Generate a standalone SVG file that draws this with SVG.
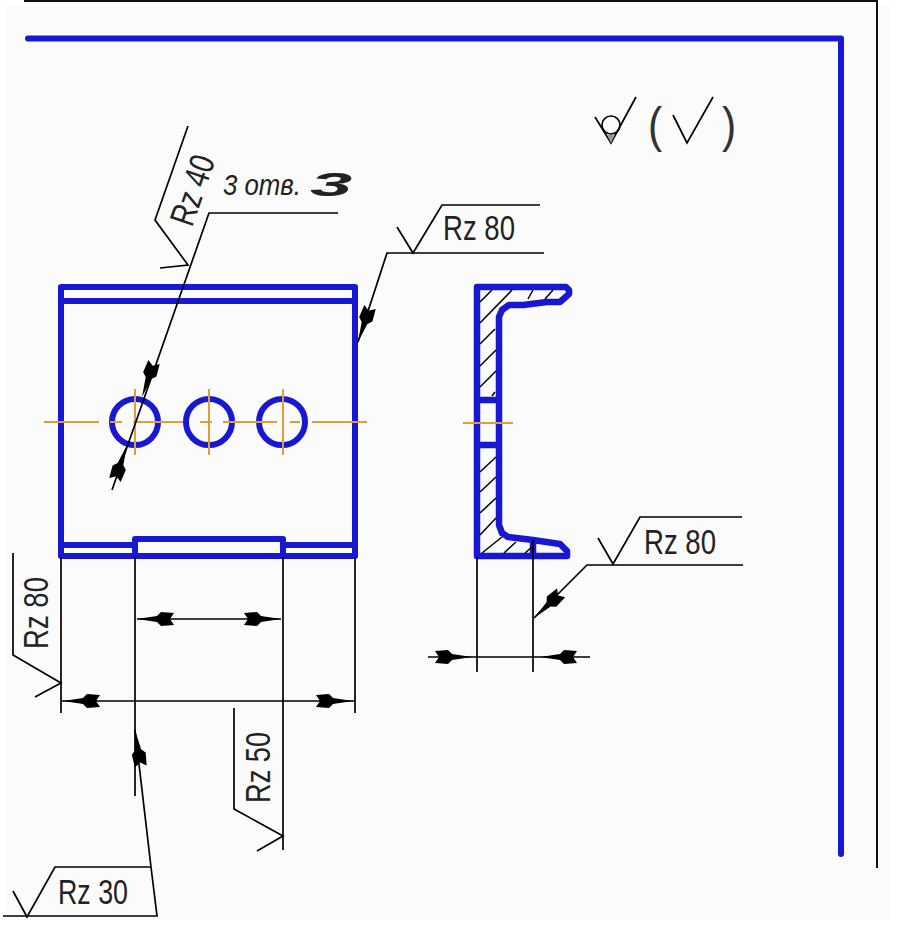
<svg xmlns="http://www.w3.org/2000/svg" width="898" height="926" viewBox="0 0 898 926">
<defs>
<style>
.b{fill:none;stroke:#1818d2;stroke-width:6;stroke-linejoin:round;stroke-linecap:round}
.k{fill:none;stroke:#000;stroke-width:1.7;stroke-linejoin:miter}
.o{fill:none;stroke:#dd9f3c;stroke-width:2}
.h{fill:none;stroke:#000;stroke-width:1.5}
.t{font-family:"Liberation Sans",Arial,sans-serif;font-size:35px;fill:#222}
</style>
<path id="arrow" d="M0,0 L20,-3 L24,-7 L37,-6 L33,0 L37,6 L24,7 L20,3Z" fill="#000"/>
</defs>
<rect width="898" height="926" fill="#fff"/>
<rect x="6" y="6" width="884" height="914" fill="#fbfbfb"/>
<g id="frame">
<path d="M24,1H877V868" fill="none" stroke="#111" stroke-width="2"/>
<path d="M28,38.5H841V854" class="b"/>
</g>
<g id="plate">
<path class="b" d="M61,287H355V556H61Z"/>
<path class="b" d="M61,301H355M61,545H135M283,545H355M135,556V539H283V556"/>
<circle class="b" cx="135" cy="422" r="23"/>
<circle class="b" cx="209" cy="422" r="23"/>
<circle class="b" cx="282" cy="422" r="23"/>
<path class="o" d="M44,422H99M110,422H122M133,422H183M200,422H212M223,422H277M290,422H300M312,422H367M135,389V455M209,389V455M283,389V455"/>
</g>
<g id="section">
<path class="b" style="stroke-width:6.5" d="M477,287H566L569,290V294L560,302H547L523,305H509L502,310L499,317V525L502,533L508,537L533,540L560,544L567,551V556H477ZM477,400H499M477,445H499M533,541V556"/>
<path class="h" d="M480,302L492,290M480,323L512,290M480,344L495,329M480,366L496,350M480,387L496,371M492,396L495,392M528,299L533,290M545,299L553,290M480,472L496,457M480,492L496,477M480,513L496,498M480,535L496,518M482,553L502,537M504,553L516,542M525,553L532,547"/>
<path class="o" d="M463,423H513"/>
</g>
<g id="connectors">
<path class="k" d="M61,557V713M135,557V796M283,557V850M355,557V713M477,557V672M533,540V672"/>
<path class="k" d="M137,619H281M62,701H355M428,657H590"/>
<use href="#arrow" transform="translate(137,619)"/>
<use href="#arrow" transform="translate(281,619) rotate(180)"/>
<use href="#arrow" transform="translate(63,701)"/>
<use href="#arrow" transform="translate(353,701) rotate(180)"/>
<use href="#arrow" transform="translate(472,657) rotate(180)"/>
<use href="#arrow" transform="translate(540,657)"/>
<path class="k" d="M338,213H209L112,490"/>
<use href="#arrow" transform="translate(142,397) rotate(-71)"/>
<use href="#arrow" transform="translate(127,445) rotate(109)"/>
<path class="k" d="M544,253H387L358,342"/>
<use href="#arrow" transform="translate(358,342) rotate(-71)"/>
<path class="k" d="M743,565H587L534,618"/>
<use href="#arrow" transform="translate(534,618) rotate(-43)"/>
<path class="k" d="M135,730L151,867L157,916H3"/>
<use href="#arrow" transform="translate(135,730) rotate(81)"/>
</g>
<g id="rz40">
<path class="k" d="M188,126L155,220L188,265L160,268"/>
<text class="t" transform="translate(192,228) rotate(-71)" textLength="72" lengthAdjust="spacingAndGlyphs">Rz 40</text>
</g>
<g id="note">
<text x="223" y="195" style="font-family:'Liberation Sans',Arial,sans-serif;font-size:30px;font-style:italic;fill:#222" textLength="78" lengthAdjust="spacingAndGlyphs">3 отв.</text>
<text transform="translate(310,196) scale(2.3,1)" style="font-family:'Liberation Sans',Arial,sans-serif;font-size:33px;font-style:italic;font-weight:bold;fill:#222">3</text>
</g>
<g id="rz80-top">
<path class="k" d="M540,205H442L413,253L397,227"/>
<text class="t" x="443" y="240" textLength="72" lengthAdjust="spacingAndGlyphs">Rz 80</text>
</g>
<g id="rz80-right">
<path class="k" d="M742,517H640L613,564L598,538"/>
<text class="t" x="644" y="554" textLength="72" lengthAdjust="spacingAndGlyphs">Rz 80</text>
</g>
<g id="rz80-left">
<path class="k" d="M13,553V655L61,683L35,697"/>
<text class="t" transform="translate(48,649) rotate(-90)" textLength="72" lengthAdjust="spacingAndGlyphs">Rz 80</text>
</g>
<g id="rz50">
<path class="k" d="M234,708V809L283,836L257,851"/>
<text class="t" transform="translate(270,803) rotate(-90)" textLength="71" lengthAdjust="spacingAndGlyphs">Rz 50</text>
</g>
<g id="rz30">
<path class="k" d="M150,867H55L27,917L13,891"/>
<text class="t" x="58" y="904" textLength="70" lengthAdjust="spacingAndGlyphs">Rz 30</text>
</g>
<g id="symbol">
<path class="k" d="M595,117L611,143L636,97"/>
<circle cx="611" cy="125" r="9" fill="none" stroke="#000" stroke-width="1.6"/>
<path d="M607,135H615L611,143Z" fill="#999"/>
<path class="k" d="M673,115L687,143L713,97"/>
<text transform="translate(648,142) scale(0.85,1)" style="font-family:'Liberation Sans',Arial,sans-serif;font-size:50px;fill:#333">(</text>
<text transform="translate(722,142) scale(0.85,1)" style="font-family:'Liberation Sans',Arial,sans-serif;font-size:50px;fill:#333">)</text>
</g>
</svg>
